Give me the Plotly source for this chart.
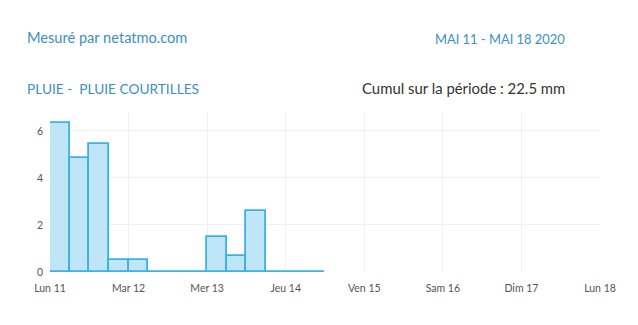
import plotly.graph_objects as go
from datetime import datetime, timedelta

start = datetime(2020, 5, 11)
bar_starts = [start + timedelta(hours=6 * i) for i in range(14)]
rain_mm = [6.35, 4.85, 5.45, 0.5, 0.5, 0, 0, 0, 1.5, 0.7, 2.6, 0, 0, 0]
day_ticks = [start + timedelta(days=d) for d in range(8)]
day_labels = ["Lun 11", "Mar 12", "Mer 13", "Jeu 14", "Ven 15", "Sam 16", "Dim 17", "Lun 18"]

FONT = "Lato"
BLUE = "#3d8fc6"

centers = [t + timedelta(hours=3) for t in bar_starts]

fig = go.Figure()
fig.add_trace(go.Bar(
    x=centers, y=rain_mm,
    width=6 * 3600 * 1000,
    marker=dict(color="#bfe5f6", line=dict(color="#3ab2e6", width=1.8)),
    hoverinfo="skip",
))

fig.update_layout(
    width=638, height=325,
    margin=dict(l=50, r=38, t=112, b=53),
    paper_bgcolor="white", plot_bgcolor="white",
    showlegend=False,
    bargap=0,
    font=dict(family=FONT, color="#555"),
    xaxis=dict(
        range=[start, start + timedelta(days=7)],
        tickvals=day_ticks, ticktext=day_labels,
        showgrid=True, gridcolor="#f0f0f0", gridwidth=1,
        zeroline=False, showline=False, ticks="",
        tickfont=dict(size=10.5, color="#555"),
        ticklabelstandoff=8,
    ),
    yaxis=dict(
        range=[0, 6.8],
        tickvals=[0, 2, 4, 6],
        showgrid=True, gridcolor="#f0f0f0", gridwidth=1,
        zeroline=False, showline=False, ticks="",
        tickfont=dict(size=10.5, color="#555"),
        ticklabelstandoff=6,
    ),
    annotations=[
        dict(text="Mesuré par netatmo.com", x=25, y=37, xref="paper", yref="paper",
             showarrow=False, xanchor="left", yanchor="middle",
             font=dict(family=FONT, size=14.6, color=BLUE)),
        dict(text="MAI 11 - MAI 18 2020", x=567, y=39, xref="paper", yref="paper",
             showarrow=False, xanchor="right", yanchor="middle",
             font=dict(family=FONT, size=12.9, color=BLUE)),
        dict(text="PLUIE -&nbsp;&nbsp;PLUIE COURTILLES", x=25, y=88, xref="paper", yref="paper",
             showarrow=False, xanchor="left", yanchor="middle",
             font=dict(family=FONT, size=13.7, color=BLUE)),
        dict(text="Cumul sur la période : 22.5 mm", x=567, y=88, xref="paper", yref="paper",
             showarrow=False, xanchor="right", yanchor="middle",
             font=dict(family=FONT, size=14.9, color="#333")),
    ],
)

# convert pixel annotation positions to paper coords
pw = 638 - 50 - 38
ph = 325 - 112 - 53
for a in fig.layout.annotations:
    a.x = (a.x - 50) / pw
    a.y = (325 - 53 - a.y) / ph

fig.write_html("out.html")
